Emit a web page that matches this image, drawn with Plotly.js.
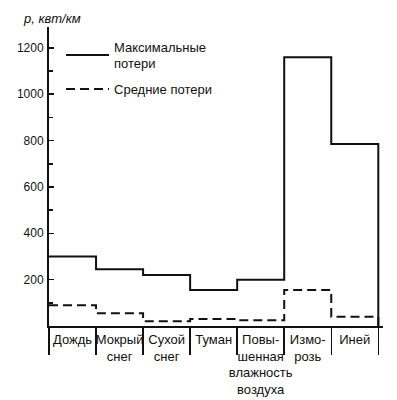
<!DOCTYPE html>
<html>
<head>
<meta charset="utf-8">
<script src="https://cdn.plot.ly/plotly-3.0.1.min.js"></script>
<style>html,body{margin:0;padding:0;background:#fff;}#chart{width:397px;height:400px;}</style>
</head>
<body>
<div id="chart"></div>
<script>
const categories = ["Дождь", "Мокрый<br>снег", "Сухой<br>снег", "Туман", "Повы-<br>шенная<br>влажность<br>воздуха", "Измо-<br>розь", "Иней"];
const maxLoss = [300, 245, 220, 155, 200, 1160, 785];
const avgLoss = [90, 55, 20, 30, 25, 155, 40];
const yTickVals = [200, 400, 600, 800, 1000, 1200];
const yMinorVals = [100, 300, 500, 700, 900, 1100];
const seriesNames = ["Максимальные<br>потери", "Средние потери"];

const bounds = categories.map((c, i) => i).concat([categories.length]);
const centers = categories.map((c, i) => i + 0.5);
const FONT = "Liberation Sans, Arial, sans-serif";

const traces = [
  {x: bounds, y: maxLoss.concat([0]), mode: "lines", line: {shape: "hv", color: "#111", width: 2},
   name: seriesNames[0], legend: "legend", hoverinfo: "skip"},
  {x: bounds, y: avgLoss.concat([0]), mode: "lines", line: {shape: "hv", color: "#111", width: 2, dash: "9px,5px"},
   name: seriesNames[1], legend: "legend2", hoverinfo: "skip"}
];

const layout = {
  width: 397, height: 400,
  margin: {l: 49, r: 14, t: 27, b: 74},
  paper_bgcolor: "#fff", plot_bgcolor: "#fff",
  font: {family: FONT, size: 13, color: "#111"},
  showlegend: true,
  legend: {x: 0.036, xanchor: "left", y: 0.985, yanchor: "top", bgcolor: "rgba(0,0,0,0)",
    font: {family: FONT, size: 13, color: "#111"}, itemwidth: 43, tracegroupgap: 0},
  legend2: {x: 0.036, xanchor: "left", y: 0.843, yanchor: "top", bgcolor: "rgba(0,0,0,0)",
    font: {family: FONT, size: 13, color: "#111"}, itemwidth: 43},
  xaxis: {
    range: [0, 7.1], showgrid: false, zeroline: false,
    showline: true, linecolor: "#111", linewidth: 2,
    tickvals: centers, ticktext: categories, ticks: "", tickangle: 0,
    tickfont: {family: FONT, size: 13, color: "#111"},
    minor: {tickvals: bounds, ticks: "outside", ticklen: 27, tickcolor: "#111", tickwidth: 1.5, showgrid: false},
    fixedrange: true
  },
  yaxis: {
    range: [0, 1290], showgrid: false, zeroline: false,
    showline: true, linecolor: "#111", linewidth: 2,
    tickvals: yTickVals, ticks: "inside", ticklen: 5, tickwidth: 1.5, tickcolor: "#111",
    tickfont: {family: FONT, size: 12, color: "#111"},
    ticklabelstandoff: 1,
    minor: {tickvals: yMinorVals, ticks: "inside", ticklen: 4, tickwidth: 1.5, tickcolor: "#111", showgrid: false},
    fixedrange: true
  },
  annotations: [
    {xref: "paper", yref: "paper", x: -0.085, y: 1.03, xanchor: "left", yanchor: "middle",
     text: "<i>p, квт/км</i>", showarrow: false, font: {family: FONT, size: 13, color: "#111"}}
  ]
};

Plotly.newPlot("chart", traces, layout, {displayModeBar: false, staticPlot: true});
</script>
</body>
</html>
